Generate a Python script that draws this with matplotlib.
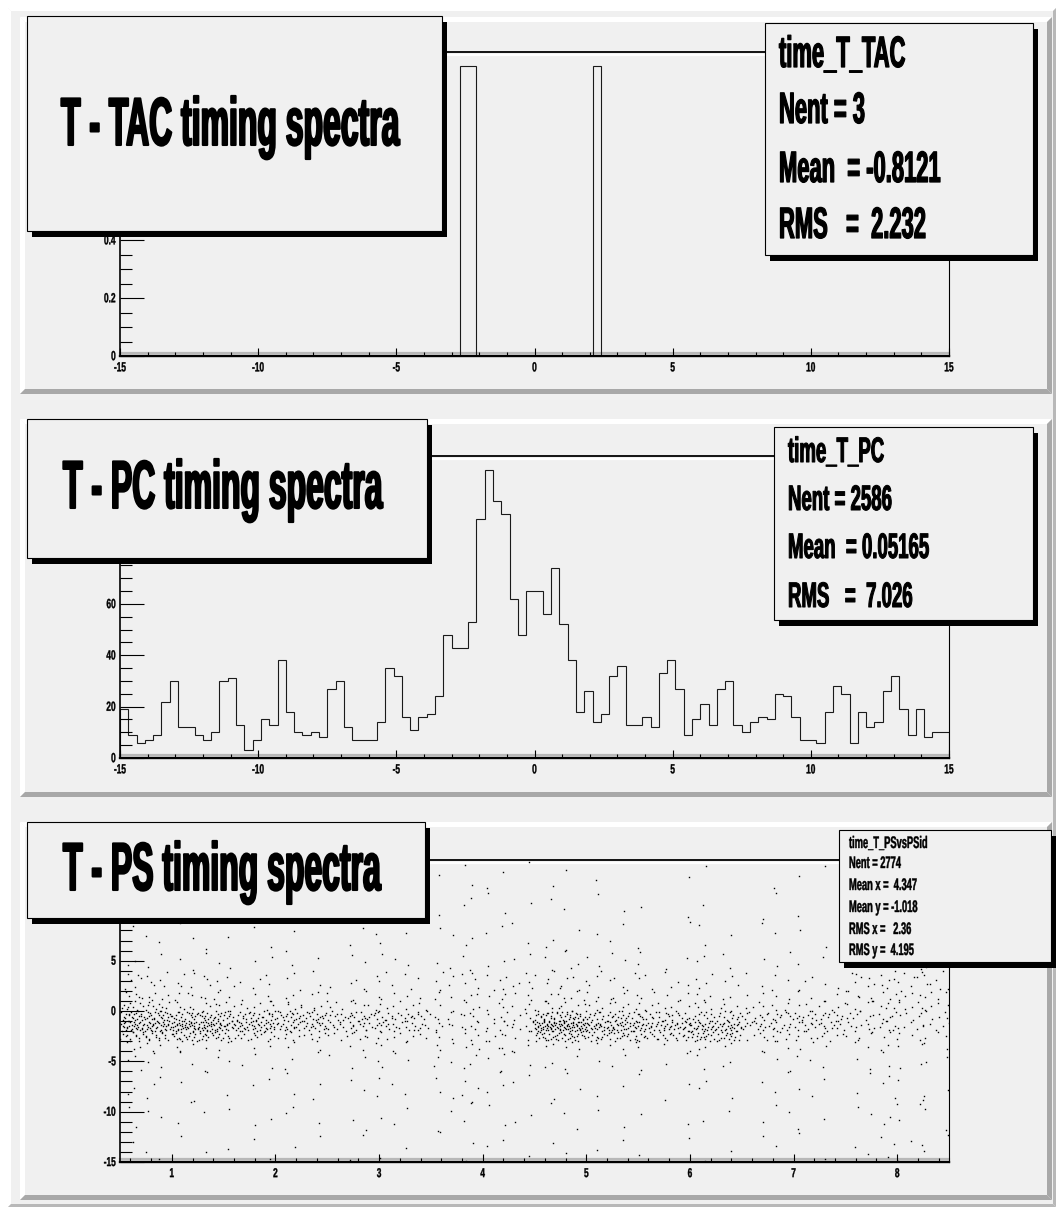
import numpy as np
import matplotlib
matplotlib.use("Agg")
import matplotlib.pyplot as plt
from matplotlib.patches import Rectangle, Polygon
from matplotlib.patheffects import AbstractPathEffect
from matplotlib.transforms import Affine2D

plt.rcParams['font.family'] = ['Liberation Sans', 'DejaVu Sans']
plt.rcParams['font.weight'] = 'bold'

W, H = 1056, 1207
BG = '#f0f0f0'

# ---- histogram binning shared by the two 1D spectra ----
hist_lo, hist_hi, hist_nbins = -15.0, 15.0, 100

# time_T_TAC: three entries, each in its own bin
tac_bins = [41, 42, 57]
tac_contents = [1, 1, 1]

# time_T_PC bin contents
pc_contents = [
    19, 9, 6, 7, 9, 22, 30, 12, 12, 9,
    7, 10, 30, 31, 13, 3, 7, 15, 13, 38,
    18, 10, 9, 10, 8, 27, 30, 12, 7, 7,
    7, 14, 35, 32, 16, 11, 16, 17, 24, 48,
    43, 43, 53, 93, 112, 100, 95, 62, 48, 65,
    65, 56, 74, 52, 38, 18, 26, 14, 17, 32,
    36, 13, 13, 16, 12, 33, 38, 27, 9, 15,
    21, 13, 27, 30, 13, 10, 14, 16, 15, 25,
    24, 16, 7, 7, 6, 18, 28, 25, 6, 18,
    12, 14, 26, 32, 19, 9, 19, 8, 10, 10,
]

# time_T_PSvsPSid: counts per cell, rows from bottom (y=-15) to top (y=15)
ps_x_edges = [0.5, 1.0, 1.5, 2.0, 2.5, 3.0, 3.5, 4.0, 4.5,
              5.0, 5.5, 6.0, 6.5, 7.0, 7.5, 8.0, 8.5]
ps_y_edges = [-15, -12, -9, -6, -4, -3, -2, -1, 0, 1, 2, 4, 6, 9, 12, 15]
ps_counts = [
    [3, 2, 3, 2, 2, 2, 3, 3, 2, 2, 2, 2, 2, 2, 5, 5],
    [4, 3, 3, 3, 2, 3, 4, 4, 3, 2, 2, 2, 3, 2, 5, 4],
    [5, 3, 3, 4, 3, 3, 7, 5, 3, 2, 3, 3, 3, 3, 5, 4],
    [6, 4, 4, 3, 4, 3, 6, 5, 4, 3, 3, 4, 3, 3, 4, 4],
    [6, 5, 3, 3, 3, 3, 6, 5, 5, 4, 3, 4, 3, 3, 4, 4],
    [30, 35, 20, 12, 10, 8, 6, 7, 40, 30, 25, 35, 10, 10, 8, 6],
    [60, 70, 48, 35, 25, 22, 10, 12, 85, 55, 42, 50, 22, 22, 14, 10],
    [45, 40, 35, 33, 27, 22, 9, 10, 45, 30, 27, 22, 20, 20, 14, 10],
    [20, 10, 10, 10, 8, 8, 5, 6, 10, 10, 8, 8, 8, 8, 9, 9],
    [10, 8, 5, 4, 4, 4, 6, 6, 7, 6, 5, 5, 4, 4, 8, 8],
    [12, 10, 7, 5, 5, 6, 10, 10, 10, 8, 7, 7, 5, 5, 14, 14],
    [4, 4, 3, 3, 2, 3, 4, 4, 5, 5, 3, 4, 3, 2, 4, 4],
    [3, 3, 3, 2, 3, 2, 4, 4, 4, 3, 2, 3, 2, 2, 3, 3],
    [2, 2, 2, 1, 2, 1, 3, 3, 2, 2, 2, 1, 2, 1, 2, 2],
    [1, 2, 1, 1, 2, 1, 3, 3, 2, 1, 1, 1, 1, 2, 1, 1],
]

titles = ["T - TAC timing spectra", "T - PC timing spectra", "T - PS timing spectra"]
tac_stats = ["time_T_TAC", "Nent = 3", "Mean  = -0.8121", "RMS   =  2.232"]
pc_stats = ["time_T_PC", "Nent = 2586", "Mean  = 0.05165", "RMS   =  7.026"]
ps_stats = ["time_T_PSvsPSid", "Nent = 2774", "Mean x =  4.347",
            "Mean y = -1.018", "RMS x =   2.36", "RMS y =  4.195"]


class Stretch(AbstractPathEffect):
    """Draw text glyphs stretched vertically (tall, condensed look)."""

    def __init__(self, sy, vanchor='baseline', lw=0.0):
        super().__init__()
        self.sy = sy
        self.vanchor = vanchor
        self.lw = lw

    def draw_path(self, renderer, gc, tpath, affine, rgbFace=None):
        ext = tpath.get_extents()
        if self.vanchor == 'top':
            cy = ext.y1
        elif self.vanchor == 'center':
            cy = 0.5 * (ext.y0 + ext.y1)
        else:
            cy = 0.0
        stretch = Affine2D().translate(0, -cy).scale(1.0, self.sy).translate(0, cy)
        gc0 = renderer.new_gc()
        gc0.copy_properties(gc)
        if self.lw > 0:
            gc0.set_linewidth(self.lw)
            gc0.set_foreground(rgbFace)
            gc0.set_joinstyle('round')
        renderer.draw_path(gc0, tpath, stretch + affine, rgbFace)
        gc0.restore()


def halton(i, base):
    f, r = 1.0, 0.0
    while i > 0:
        f /= base
        r += f * (i % base)
        i //= base
    return r


def frame_rect(x0, ytop, x1, ybot):
    return [x0 / W, 1 - ybot / H, (x1 - x0) / W, (ybot - ytop) / H]


def bevel(ax, x0, y0, x1, y1, bw, light='white', dark='#a8a8a8', fill=BG):
    ax.add_patch(Rectangle((x0, y0), x1 - x0, y1 - y0, fc=fill, ec='none'))
    ax.add_patch(Polygon([(x0, y0), (x1, y0), (x1 - bw, y0 + bw), (x0 + bw, y0 + bw)], fc=light, ec='none'))
    ax.add_patch(Polygon([(x0, y0), (x0 + bw, y0 + bw), (x0 + bw, y1 - bw), (x0, y1)], fc=light, ec='none'))
    ax.add_patch(Polygon([(x0, y1), (x0 + bw, y1 - bw), (x1 - bw, y1 - bw), (x1, y1)], fc=dark, ec='none'))
    ax.add_patch(Polygon([(x1, y0), (x1, y1), (x1 - bw, y1 - bw), (x1 - bw, y0 + bw)], fc=dark, ec='none'))


def shadow_box(ax, x0, y0, x1, y1, dx=5, dy=6):
    ax.add_patch(Rectangle((x0 + dx, y0 + dy), x1 - x0, y1 - y0, fc='black', ec='none'))
    ax.add_patch(Rectangle((x0, y0), x1 - x0, y1 - y0, fc=BG, ec='black', lw=0.8))


def style_axes(ax, xticks, xlabels, xminor, yticks, ylabels, yminor, lab_size=6.0, sy=1.6):
    ax.set_facecolor('none')
    ax.set_xticks(xticks, labels=xlabels, fontsize=lab_size, fontweight='bold')
    ax.set_yticks(yticks, labels=ylabels, fontsize=lab_size, fontweight='bold')
    ax.set_xticks(xminor, minor=True)
    ax.set_yticks(yminor, minor=True)
    ax.tick_params(axis='x', which='major', direction='in', length=5.8, width=0.8, pad=5)
    ax.tick_params(axis='x', which='minor', direction='in', length=2.9, width=0.8)
    ax.tick_params(axis='y', which='major', direction='in', length=17.3, width=0.8, pad=3)
    ax.tick_params(axis='y', which='minor', direction='in', length=8.6, width=0.8)
    for lab in ax.get_xticklabels():
        lab.set_path_effects([Stretch(sy, 'top', 0.25)])
    for lab in ax.get_yticklabels():
        lab.set_path_effects([Stretch(sy, 'center', 0.25)])
    ax.spines['left'].set_linewidth(1.2)
    ax.spines['bottom'].set_linewidth(1.7)
    ax.spines['top'].set_linewidth(1.3)
    ax.spines['right'].set_linewidth(0.8)


fig = plt.figure(figsize=(W / 100, H / 100), dpi=100)
fig.patch.set_facecolor('white')

# canvas and pads in pixel coordinates
bg = fig.add_axes([0, 0, 1, 1], zorder=0)
bg.set_xlim(0, W)
bg.set_ylim(H, 0)
bg.axis('off')
bevel(bg, 8, 8, W, H, 3, light='white', dark='#b8b8b8')
pads = [(20, 17, 1052, 394), (20, 419, 1052, 797), (20, 822, 1052, 1200)]
for p in pads:
    bevel(bg, *p, 5)

frames = [(120, 52, 949, 356), (120, 456, 949, 758), (120, 860, 949, 1162)]
for (x0, yt, x1, yb) in frames:
    bg.plot([x0, x1], [yt + 2.5, yt + 2.5], color='white', lw=1.6)
    bg.plot([x0, x1], [yb - 3, yb - 3], color='#b8b8b8', lw=1.6)

edges = np.linspace(hist_lo, hist_hi, hist_nbins + 1)
x_hist_ticks = [-15, -10, -5, 0, 5, 10, 15]
x_hist_labels = ['-15', '-10', '-5', '0', '5', '10', '15']

# T - TAC
ax1 = fig.add_axes(frame_rect(*frames[0]), zorder=1)
tac = np.zeros(hist_nbins)
tac[tac_bins] = tac_contents
ax1.stairs(tac, edges, baseline=0, color='#1a1a1a', lw=0.8)
ax1.set_xlim(hist_lo, hist_hi)
ax1.set_ylim(0, 1.05 * tac.max())
style_axes(ax1, x_hist_ticks, x_hist_labels, np.arange(-15, 16, 1),
           [0, 0.2, 0.4, 0.6, 0.8, 1.0], ['0', '0.2', '0.4', '', '', ''],
           np.arange(0, 1.05, 0.05))

# T - PC
ax2 = fig.add_axes(frame_rect(*frames[1]), zorder=1)
pc = np.array(pc_contents, dtype=float)
ax2.stairs(pc, edges, baseline=0, color='#1a1a1a', lw=0.8)
ax2.set_xlim(hist_lo, hist_hi)
ax2.set_ylim(0, 1.05 * pc.max())
style_axes(ax2, x_hist_ticks, x_hist_labels, np.arange(-15, 16, 1),
           [0, 20, 40, 60, 80, 100], ['0', '20', '40', '60', '', ''],
           np.arange(0, 120, 5))

# T - PS scatter: each cell's dots spread with a Halton sequence
ax3 = fig.add_axes(frame_rect(*frames[2]), zorder=1)
xs, ys = [], []
for r in range(len(ps_y_edges) - 1):
    for c in range(len(ps_x_edges) - 1):
        start = 1 + 211 * (r * 16 + c)
        for k in range(ps_counts[r][c]):
            u = halton(start + k, 2)
            v = halton(start + k, 3)
            xs.append(ps_x_edges[c] + u * (ps_x_edges[c + 1] - ps_x_edges[c]))
            ys.append(ps_y_edges[r] + v * (ps_y_edges[r + 1] - ps_y_edges[r]))
ax3.plot(xs, ys, ls='none', marker='s', ms=1.0, mew=0, color='black')
ax3.set_xlim(ps_x_edges[0], ps_x_edges[-1])
ax3.set_ylim(ps_y_edges[0], ps_y_edges[-1])
style_axes(ax3, [1, 2, 3, 4, 5, 6, 7, 8], ['1', '2', '3', '4', '5', '6', '7', '8'],
           np.arange(0.6, 8.5, 0.2),
           [-15, -10, -5, 0, 5, 10, 15], ['-15', '-10', '-5', '0', '5', '', ''],
           np.arange(-15, 16, 1), sy=1.55)

# title and statistics boxes on top
ov = fig.add_axes([0, 0, 1, 1], zorder=5)
ov.set_xlim(0, W)
ov.set_ylim(H, 0)
ov.axis('off')

title_boxes = [(27, 16, 442, 231), (27, 419, 427, 558), (27, 822, 425, 918)]
title_pos = [(61, 145), (63, 508), (63, 890)]
for box, (tx, ty), txt in zip(title_boxes, title_pos, titles):
    shadow_box(ov, *box)
    ov.text(tx, ty, txt, fontsize=23.0, fontweight='bold', ha='left', va='baseline',
            path_effects=[Stretch(2.12, 'baseline', 1.5)])

stat_boxes = [(765, 23, 1033, 255), (774, 427, 1033, 620), (839, 830, 1051, 962)]
stat_x = [779, 788, 849]
stat_base = [[67, 123, 182, 238], [462, 510, 558, 607], [848, 868, 890, 912, 934, 955]]
stat_size = [15.8, 13.4, 6.7]
stat_sy = [2.0, 1.9, 1.8]
stat_lw = [0.9, 0.75, 0.3]
for i, lines in enumerate([tac_stats, pc_stats, ps_stats]):
    shadow_box(ov, *stat_boxes[i], dx=5, dy=6)
    for yb, line in zip(stat_base[i], lines):
        ov.text(stat_x[i], yb, line, fontsize=stat_size[i], fontweight='bold',
                ha='left', va='baseline',
                path_effects=[Stretch(stat_sy[i], 'baseline', stat_lw[i])])

fig.savefig('out.png', dpi=100, facecolor=fig.get_facecolor())
